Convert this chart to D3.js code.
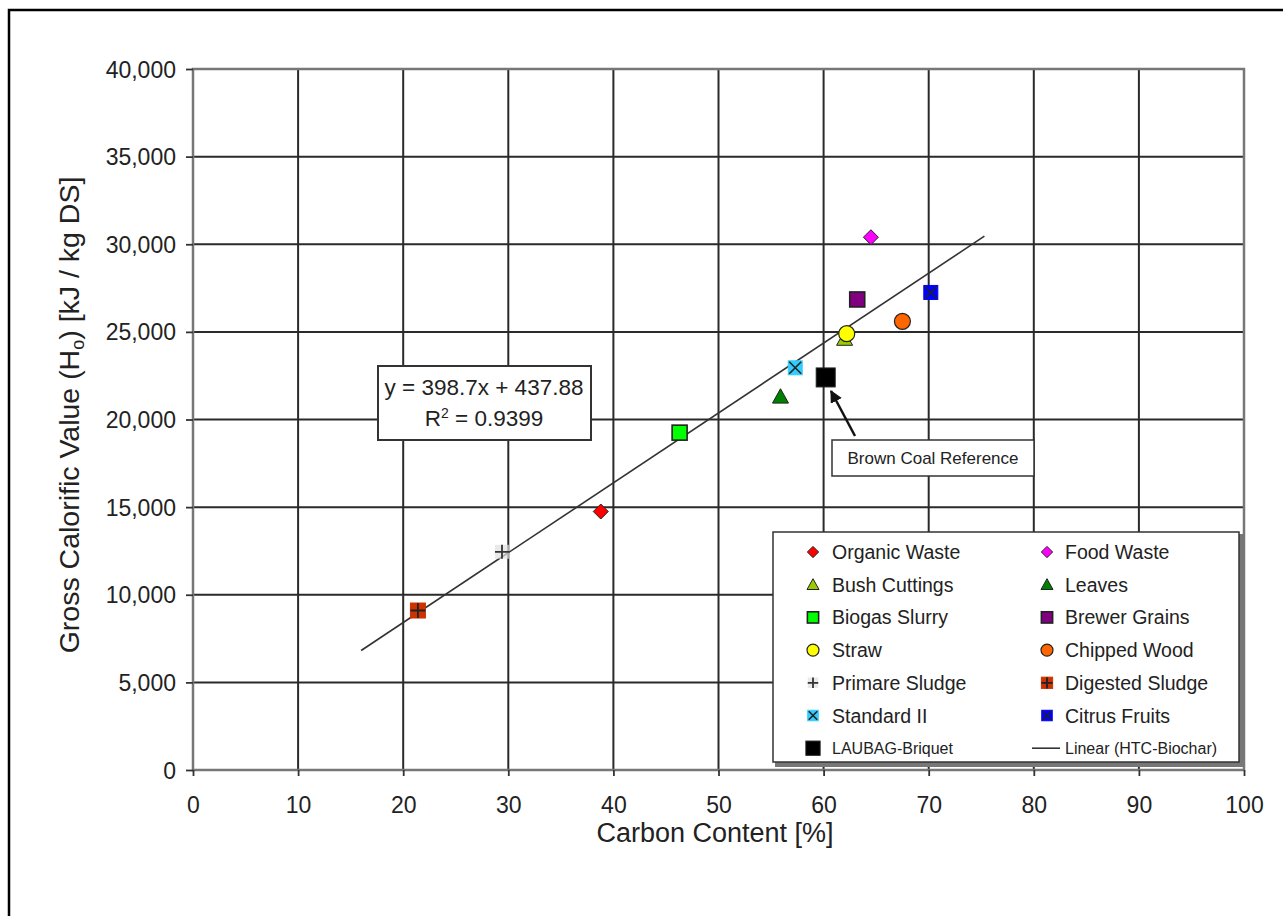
<!DOCTYPE html>
<html>
<head>
<meta charset="utf-8">
<script src="https://cdn.jsdelivr.net/npm/d3@7/dist/d3.min.js"></script>
<style>
  html, body { margin: 0; padding: 0; background: #fff; }
  svg { display: block; font-family: "Liberation Sans", Arial, sans-serif; }
</style>
</head>
<body>
<svg id="chart" width="1283" height="916"></svg>
<script>
// ---- data ----
const seriesNames = ["Organic Waste","Food Waste","Bush Cuttings","Leaves","Biogas Slurry","Brewer Grains",
  "Straw","Chipped Wood","Primare Sludge","Digested Sludge","Standard II","Citrus Fruits","LAUBAG-Briquet"];
const carbonContent = [38.8, 64.5, 62.0, 55.9, 46.3, 63.2, 62.2, 67.5, 29.4, 21.4, 57.3, 70.2, 60.2];
const calorificValue = [14750, 30400, 24600, 21300, 19250, 26850, 24900, 25600, 12450, 9100, 22950, 27250, 22400];
const markerShapes = ["diamond","diamond","triangle","triangle","square","square","circle","circle","plus","squareplus","squarex","squarex","bigsquare"];
const markerColors = ["#ff0000","#ff00ff","#99cc00","#008000","#00ff00","#800080","#ffff00","#ff6600","#c0c0c0","#cc3300","#33ccff","#0000ff","#000000"];
const xTicks = [0,10,20,30,40,50,60,70,80,90,100];
const yTicks = [0,5000,10000,15000,20000,25000,30000,35000,40000];
const trendSlope = 398.7, trendIntercept = 437.88;
const trendRange = [16, 75.3];

// ---- layout ----
const svg = d3.select("#chart");
const L = 193, R = 1244, T = 69, B = 770;
const x = d3.scaleLinear().domain([0,100]).range([L,R]);
const y = d3.scaleLinear().domain([0,40000]).range([B,T]);
const FONT = '"Liberation Sans", Arial, sans-serif';

// outer frame
svg.append("rect").attr("x",9).attr("y",10).attr("width",1290).attr("height",960)
  .attr("fill","none").attr("stroke","#000").attr("stroke-width",2.5);

// grid
const grid = svg.append("g");
grid.selectAll(".vg").data(xTicks).join("line")
  .attr("x1",d=>x(d)).attr("x2",d=>x(d)).attr("y1",T).attr("y2",B)
  .attr("stroke","#2a2a2a").attr("stroke-width",2);
grid.selectAll(".hg").data(yTicks).join("line")
  .attr("x1",L).attr("x2",R).attr("y1",d=>y(d)).attr("y2",d=>y(d))
  .attr("stroke","#2a2a2a").attr("stroke-width",2);
// plot border (grey)
svg.append("rect").attr("x",L).attr("y",T).attr("width",R-L).attr("height",B-T)
  .attr("fill","none").attr("stroke","#777").attr("stroke-width",2.5);

// axes
const fmt = d3.format(",");
const yAxis = svg.append("g").attr("transform",`translate(${L},0)`)
  .call(d3.axisLeft(y).tickValues(yTicks).tickFormat(fmt).tickSize(6).tickPadding(6));
const xAxis = svg.append("g").attr("transform",`translate(0,${B})`)
  .call(d3.axisBottom(x).tickValues(xTicks).tickSize(6).tickPadding(16));
[yAxis,xAxis].forEach(a=>{
  a.select(".domain").remove();
  a.selectAll(".tick line").attr("stroke","#333").attr("stroke-width",1.8);
  a.selectAll(".tick text").attr("fill","#222")
    .attr("font-size","23px").attr("font-family",FONT);
});
yAxis.selectAll(".tick line").attr("x1",-7).attr("x2",0);
yAxis.selectAll(".tick text").attr("x",-17).attr("dy","0.35em");
xAxis.selectAll(".tick text").attr("y",27).attr("dy","0.71em");

// axis titles
svg.append("text").attr("x",715).attr("y",842).attr("text-anchor","middle")
  .attr("font-size","27px").attr("fill","#222").text("Carbon Content [%]");
const yt = svg.append("text").attr("transform",`translate(79,415) rotate(-90)`)
  .attr("text-anchor","middle").attr("font-size","28.5px").attr("fill","#222");
yt.append("tspan").text("Gross Calorific Value (H");
yt.append("tspan").attr("baseline-shift","-25%").attr("font-size","18px").text("o");
yt.append("tspan").text(") [kJ / kg DS]");

// trendline
svg.append("line")
  .attr("x1",x(trendRange[0])).attr("y1",y(trendSlope*trendRange[0]+trendIntercept))
  .attr("x2",x(trendRange[1])).attr("y2",y(trendSlope*trendRange[1]+trendIntercept))
  .attr("stroke","#333").attr("stroke-width",1.6);

// marker drawing
function drawMarker(g, shape, color, cx, cy, s) {
  s = s || 1;
  const st = "#222";
  if (shape==="diamond") {
    const r=7.5*s;
    g.append("path").attr("d",`M${cx},${cy-r}L${cx+r},${cy}L${cx},${cy+r}L${cx-r},${cy}Z`)
      .attr("fill",color).attr("stroke",st).attr("stroke-width",1);
  } else if (shape==="triangle") {
    const r=8*s;
    g.append("path").attr("d",`M${cx},${cy-r}L${cx+r},${cy+r*0.8}L${cx-r},${cy+r*0.8}Z`)
      .attr("fill",color).attr("stroke",st).attr("stroke-width",1);
  } else if (shape==="square") {
    const r=7.5*s;
    g.append("rect").attr("x",cx-r).attr("y",cy-r).attr("width",2*r).attr("height",2*r)
      .attr("fill",color).attr("stroke",st).attr("stroke-width",1.6);
  } else if (shape==="bigsquare") {
    const r=9.5*s;
    g.append("rect").attr("x",cx-r).attr("y",cy-r).attr("width",2*r).attr("height",2*r)
      .attr("fill",color).attr("stroke",st).attr("stroke-width",1);
  } else if (shape==="circle") {
    g.append("circle").attr("cx",cx).attr("cy",cy).attr("r",8*s)
      .attr("fill",color).attr("stroke",st).attr("stroke-width",1.2);
  } else if (shape==="plus") {
    const r=7*s;
    g.append("rect").attr("x",cx-r).attr("y",cy-r).attr("width",2*r).attr("height",2*r).attr("fill","#e0e0e0").attr("opacity",0.7);
    g.append("path").attr("d",`M${cx-r},${cy}L${cx+r},${cy}M${cx},${cy-r}L${cx},${cy+r}`)
      .attr("stroke","#333").attr("stroke-width",1.8);
  } else if (shape==="squareplus") {
    const r=7.5*s;
    g.append("rect").attr("x",cx-r).attr("y",cy-r).attr("width",2*r).attr("height",2*r)
      .attr("fill",color).attr("stroke",color).attr("stroke-width",1);
    g.append("path").attr("d",`M${cx-r},${cy}L${cx+r},${cy}M${cx},${cy-r}L${cx},${cy+r}`)
      .attr("stroke","#222").attr("stroke-width",1.8);
  } else if (shape==="squarex") {
    const r=7*s;
    g.append("rect").attr("x",cx-r).attr("y",cy-r).attr("width",2*r).attr("height",2*r)
      .attr("fill",color).attr("stroke",color).attr("stroke-width",1);
    g.append("path").attr("d",`M${cx-r+1},${cy-r+1}L${cx+r-1},${cy+r-1}M${cx+r-1},${cy-r+1}L${cx-r+1},${cy+r-1}`)
      .attr("stroke","#222").attr("stroke-width",1.6);
  }
}

// points
const pts = svg.append("g");
seriesNames.forEach((n,i)=>{
  drawMarker(pts, markerShapes[i], markerColors[i], x(carbonContent[i]), y(calorificValue[i]));
});

// equation box
const eq = svg.append("g");
eq.append("rect").attr("x",378).attr("y",366).attr("width",213).attr("height",74)
  .attr("fill","#fff").attr("stroke","#333").attr("stroke-width",2);
eq.append("text").attr("x",484).attr("y",395).attr("text-anchor","middle").attr("font-size","22.5px")
  .attr("fill","#222").text("y = 398.7x + 437.88");
const r2 = eq.append("text").attr("x",484).attr("y",426).attr("text-anchor","middle").attr("font-size","22.5px").attr("fill","#222");
r2.append("tspan").text("R");
r2.append("tspan").attr("baseline-shift","super").attr("font-size","14px").text("2");
r2.append("tspan").text(" = 0.9399");

// Brown coal annotation
const bc = svg.append("g");
svg.append("defs").append("marker").attr("id","arr").attr("viewBox","0 0 10 10").attr("refX",9).attr("refY",5)
  .attr("markerWidth",5).attr("markerHeight",5).attr("orient","auto")
  .append("path").attr("d","M0,0L10,5L0,10Z").attr("fill","#111");
bc.append("line").attr("x1",855).attr("y1",436).attr("x2",831).attr("y2",391)
  .attr("stroke","#111").attr("stroke-width",2.5).attr("marker-end","url(#arr)");
bc.append("rect").attr("x",832).attr("y",440).attr("width",202).attr("height",36)
  .attr("fill","#fff").attr("stroke","#333").attr("stroke-width",1.5);
bc.append("text").attr("x",933).attr("y",464).attr("text-anchor","middle").attr("font-size","17px")
  .attr("fill","#222").text("Brown Coal Reference");

// legend
const lg = svg.append("g");
lg.append("rect").attr("x",775).attr("y",534).attr("width",468).attr("height",233)
  .attr("fill","#777");
lg.append("rect").attr("x",773).attr("y",532).attr("width",466).attr("height",230)
  .attr("fill","#fff").attr("stroke","#333").attr("stroke-width",1.5);
const rowY0 = 552, rowDy = 32.7;
const legItems = seriesNames.map((n,i)=>({name:n, i:i}));
legItems.push({name:"Linear (HTC-Biochar)", i:-1});
legItems.forEach((d,k)=>{
  const col = k%2, row = Math.floor(k/2);
  const cy = rowY0 + row*rowDy;
  const mx = col===0 ? 813 : 1047;
  const tx = col===0 ? 832 : 1065;
  if (d.i>=0) drawMarker(lg, markerShapes[d.i], markerColors[d.i], mx, cy, 0.75);
  else lg.append("line").attr("x1",1032).attr("x2",1060).attr("y1",cy).attr("y2",cy).attr("stroke","#333").attr("stroke-width",1.6);
  const small = row===6;
  lg.append("text").attr("x",tx).attr("y",cy).attr("dy","0.36em")
    .attr("font-size", small? "16px":"19.5px").attr("fill","#222").text(d.name);
});
</script>
</body>
</html>
